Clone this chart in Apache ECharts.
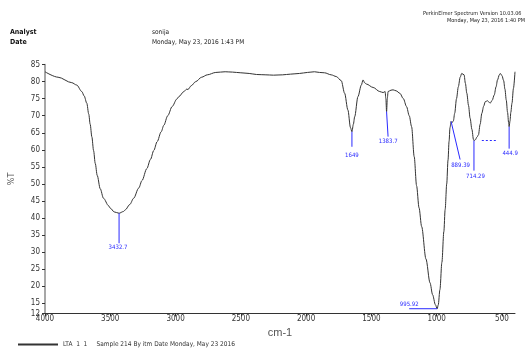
<!DOCTYPE html>
<html>
<head>
<meta charset="utf-8">
<script src="https://cdn.jsdelivr.net/npm/echarts@6/dist/echarts.min.js"></script>
<style>
  html, body { margin: 0; padding: 0; background: #fff; }
  #chart { width: 526px; height: 354px; }
</style>
</head>
<body>
<div id="chart"></div>
<script>
// IR spectrum: wavenumber (cm-1) vs transmittance (%T)
const wavenumbers = [
  4000, 3900, 3795, 3757, 3718, 3700, 3680, 3665, 3654, 3641, 3628, 3615, 3600, 3577, 3552, 3513, 3500, 3470,
  3432.7, 3400, 3385, 3350, 3321, 3282, 3257, 3220, 3192, 3167, 3141, 3110, 3090, 3060, 3026, 2990, 2975, 2936, 2915,
  2905, 2880, 2846, 2800, 2757, 2692, 2620, 2564, 2500, 2436, 2380, 2308, 2250, 2180, 2120, 2051,
  1990, 1936, 1897, 1859, 1808, 1769, 1731, 1705, 1680, 1660, 1649, 1638, 1628, 1603, 1577, 1564,
  1550, 1538, 1487, 1436, 1410, 1395, 1389, 1383.7, 1378, 1372, 1350, 1334, 1310, 1282, 1255, 1231,
  1210, 1192, 1172, 1154, 1135, 1115, 1082, 1051, 1031, 1010, 995.92, 988, 975, 960, 945,
  935, 923, 913, 905, 898, 889.39, 882, 872, 862, 848, 834, 820, 808, 790, 780, 769,
  756, 744, 730, 718, 714.29, 705, 690, 680, 667, 654, 640, 628, 611, 600, 590, 575,
  559, 545, 534, 520, 513, 500, 487, 477, 467, 457, 449, 444.9, 438, 432, 423, 412, 400
];
const transmittance = [
  82.9, 81.3, 79.7, 79.0, 77.1, 75.8, 73.7, 70.5, 67.5, 63.8, 59.8, 56.0, 52.5, 48.6, 45.8, 43.6, 42.9, 41.8,
  41.4, 41.9, 42.4, 44.0, 45.8, 48.8, 51.0, 54.5, 57.2, 59.8, 62.4, 65.3, 67.2, 70.0, 72.7, 74.9, 75.6, 77.1, 77.8,
  77.7, 78.8, 80.0, 81.3, 82.0, 82.7, 82.9, 82.8, 82.6, 82.4, 82.1, 82.0, 81.9, 82.0, 82.2, 82.4,
  82.7, 82.9, 82.7, 82.6, 82.0, 81.5, 80.3, 76.6, 71.7, 66.5, 65.3, 67.5, 69.7, 75.6, 79.0, 80.5,
  79.6, 79.3, 78.3, 77.1, 76.8, 77.1, 75.0, 71.2, 75.0, 77.1, 77.5, 77.6, 77.3, 76.6, 75.0, 72.7,
  70.0, 66.8, 58.0, 49.5, 43.0, 37.5, 28.0, 21.0, 17.5, 14.6, 13.4, 14.5, 19.0, 27.0, 36.0,
  42.5, 50.0, 57.0, 62.5, 66.5, 68.3, 68.0, 68.5, 70.7, 75.0, 78.5, 81.3, 82.4, 82.0, 79.5, 76.6,
  73.0, 69.3, 66.0, 63.0, 62.7, 62.9, 63.8, 64.4, 67.5, 70.7, 72.8, 74.1, 74.4, 74.0, 73.7, 74.5,
  76.1, 78.5, 80.5, 82.0, 82.4, 81.8, 80.3, 77.8, 74.6, 71.0, 68.0, 66.8, 68.5, 71.0, 73.7, 78.0, 82.9
];

// labelled peaks (wavenumber and printed text)
const peakWavenumbers = [3432.7, 1649, 1383.7, 995.92, 889.39, 714.29, 444.9];
const peakLabels = ['3432.7', '1649', '1383.7', '995.92', '889.39', '714.29', '444.9'];

// axis ticks
const xTicks = [4000, 3500, 3000, 2500, 2000, 1500, 1000, 500, 400];
const yTicks = [12, 15, 20, 25, 30, 35, 40, 45, 50, 55, 60, 65, 70, 75, 80, 85];

// small baseline marker drawn near 600 cm-1: [from, to, level]
const baselineMarker = [654, 539, 62.9];

const seriesName = 'LTA  1  1     Sample 214 By itm Date Monday, May 23 2016';

const spectrum = wavenumbers.map((w, i) => [w, transmittance[i]]);
const peakData = peakWavenumbers.map((w, i) => [w, transmittance[wavenumbers.indexOf(w)], peakLabels[i]]);

// pixel offsets for each peak's leader line and text (styling only)
const leaderStyle = [
  { ex: 0, ey: 30, tx: -1, ty: 34 },
  { ex: 0, ey: 15, tx: 0, ty: 24 },
  { ex: 1.5, ey: 25, tx: 1.6, ty: 30 },
  { ex: -28, ey: 0, tx: -28, ty: -4 },
  { ex: 9, ey: 38, tx: 9.5, ty: 44 },
  { ex: 0, ey: 30, tx: 1.5, ty: 36 },
  { ex: 0, ey: 22, tx: 1, ty: 27 }
];

const BLUE = '#2a2aff';
const NARROW = "'Liberation Sans Narrow', 'DejaVu Sans Condensed', 'Liberation Sans', sans-serif";

const chart = echarts.init(document.getElementById('chart'), null, { renderer: 'canvas' });

chart.setOption({
  animation: false,
  backgroundColor: '#fff',
  grid: { left: 45, right: 11, top: 64.6, bottom: 40.5, containLabel: false },
  legend: {
    left: 13, top: 336,
    itemWidth: 40, itemHeight: 2, itemGap: 0,
    icon: 'rect',
    textStyle: { fontSize: 6.5, color: '#333', fontFamily: NARROW, padding: [0, 0, 0, 0] },
    data: [seriesName]
  },
  graphic: [
    { type: 'text', left: 10, top: 29, style: { text: 'Analyst', font: 'bold 7px ' + NARROW, fill: '#111' } },
    { type: 'text', left: 10, top: 39, style: { text: 'Date', font: 'bold 7px ' + NARROW, fill: '#111' } },
    { type: 'text', left: 152, top: 29, style: { text: 'sonija', font: '6.5px ' + NARROW, fill: '#222' } },
    { type: 'text', left: 152, top: 39, style: { text: 'Monday, May 23, 2016 1:43 PM', font: '6.5px ' + NARROW, fill: '#222' } },
    { type: 'text', left: 423, top: 11, style: { text: 'PerkinElmer Spectrum Version 10.03.06', font: '5.5px ' + NARROW, fill: '#222' } },
    { type: 'text', left: 447, top: 18, style: { text: 'Monday, May 23, 2016 1:40 PM', font: '5.5px ' + NARROW, fill: '#222' } },
    { type: 'text', x: 12, y: 179, rotation: Math.PI / 2, style: { text: '%T', font: '9px ' + NARROW, fill: '#555', align: 'center', verticalAlign: 'middle' } }
  ],
  xAxis: {
    type: 'value',
    inverse: true,
    min: 400, max: 4000,
    name: 'cm-1',
    nameLocation: 'middle',
    nameGap: 12,
    nameTextStyle: { fontSize: 11, color: '#555', fontFamily: 'Liberation Sans, sans-serif' },
    axisLine: { show: true, onZero: false, lineStyle: { color: '#333', width: 1 } },
    axisTick: { show: true, length: 3, customValues: xTicks, lineStyle: { color: '#333' } },
    axisLabel: {
      customValues: xTicks,
      margin: 1,
      fontSize: 8,
      color: '#333',
      fontFamily: NARROW,
      formatter: v => (v === 400 ? '{e|400}' : String(v)),
      rich: { e: { fontSize: 8, color: '#333', fontFamily: NARROW, padding: [0, 8, 0, 0] } }
    },
    splitLine: { show: false }
  },
  yAxis: {
    type: 'value',
    min: 12, max: 85,
    axisLine: { show: true, onZero: false, lineStyle: { color: '#8a8a8a', width: 1.5 } },
    axisTick: { show: true, length: 3, customValues: yTicks, lineStyle: { color: '#333' } },
    axisLabel: { customValues: yTicks, margin: 5, fontSize: 8, color: '#333', fontFamily: NARROW },
    splitLine: { show: false }
  },
  series: [
    {
      name: seriesName,
      type: 'line',
      data: spectrum,
      smooth: 0.3,
      smoothMonotone: 'x',
      showSymbol: false,
      symbol: 'none',
      lineStyle: { color: '#333', width: 1 },
      itemStyle: { color: '#333' },
      markLine: {
        silent: true,
        symbol: 'none',
        label: { show: false },
        lineStyle: { color: BLUE, width: 1, type: [2, 2] },
        data: [[
          { coord: [baselineMarker[0], baselineMarker[2]] },
          { coord: [baselineMarker[1], baselineMarker[2]] }
        ]]
      }
    },
    {
      name: 'peaks',
      type: 'custom',
      silent: true,
      data: peakData,
      renderItem: (params, api) => {
        const p = api.coord([api.value(0), api.value(1)]);
        const s = leaderStyle[params.dataIndex];
        return {
          type: 'group',
          children: [
            { type: 'line', shape: { x1: p[0], y1: p[1], x2: p[0] + s.ex, y2: p[1] + s.ey }, style: { stroke: BLUE, lineWidth: 1 } },
            { type: 'text', x: p[0] + s.tx, y: p[1] + s.ty, style: { text: peakLabels[params.dataIndex], font: '6px ' + NARROW, fill: BLUE, align: 'center', verticalAlign: 'middle' } }
          ]
        };
      },
      z: 5
    }
  ]
});
</script>
</body>
</html>
